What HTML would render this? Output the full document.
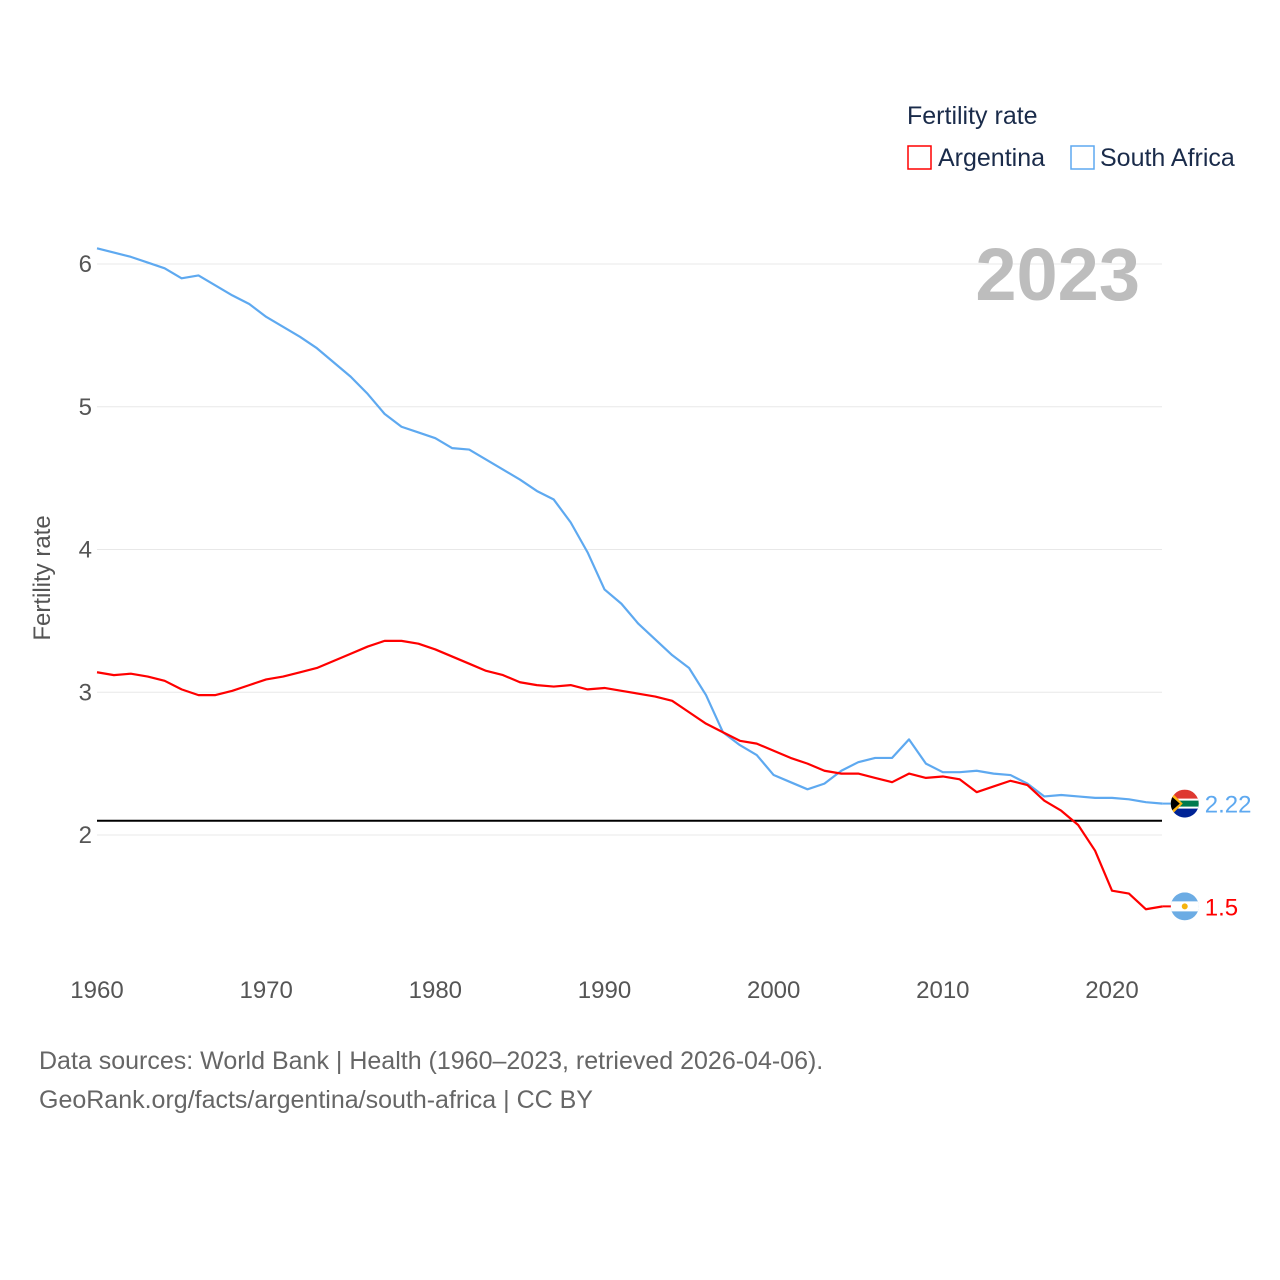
<!DOCTYPE html>
<html><head><meta charset="utf-8"><style>
body{margin:0;background:#fff;font-family:"Liberation Sans",sans-serif}
svg{display:block}
</style></head><body>
<svg id="chart" width="1280" height="1280" xmlns="http://www.w3.org/2000/svg">
<g id="grid"></g>
<g id="yticks"></g>
<g id="xticks"></g>
<text transform="translate(50,578) rotate(-90)" text-anchor="middle" font-size="24" fill="#555">Fertility rate</text>
<text x="1140" y="300" text-anchor="end" font-size="74" font-weight="bold" fill="#bdbdbd">2023</text>
<text x="907" y="124" font-size="25" fill="#1a2b4a">Fertility rate</text>
<g><rect x="908" y="146" width="23" height="23" fill="none" stroke="#f00" stroke-width="1.5"/><text x="938" y="166" font-size="25" fill="#1a2b4a">Argentina</text></g>
<g><rect x="1071" y="146" width="23" height="23" fill="none" stroke="#5ea9f0" stroke-width="1.5"/><text x="1100" y="166" font-size="25" fill="#1a2b4a">South Africa</text></g>
<g id="series"></g>
<text x="39" y="1069" font-size="25" fill="#666">Data sources: World Bank | Health (1960–2023, retrieved 2026-04-06).</text>
<text x="39" y="1108" font-size="25" fill="#666">GeoRank.org/facts/argentina/south-africa | CC BY</text>
</svg>
<script>
const years=[];for(let y=1960;y<=2023;y++)years.push(y);
const southAfrica=[6.11,6.08,6.05,6.01,5.97,5.90,5.92,5.85,5.78,5.72,5.63,5.56,5.49,5.41,5.31,5.21,5.09,4.95,4.86,4.82,4.78,4.71,4.70,4.63,4.56,4.49,4.41,4.35,4.19,3.98,3.72,3.62,3.48,3.37,3.26,3.17,2.98,2.72,2.63,2.56,2.42,2.37,2.32,2.36,2.45,2.51,2.54,2.54,2.67,2.50,2.44,2.44,2.45,2.43,2.42,2.36,2.27,2.28,2.27,2.26,2.26,2.25,2.23,2.22];
const argentina=[3.14,3.12,3.13,3.11,3.08,3.02,2.98,2.98,3.01,3.05,3.09,3.11,3.14,3.17,3.22,3.27,3.32,3.36,3.36,3.34,3.30,3.25,3.20,3.15,3.12,3.07,3.05,3.04,3.05,3.02,3.03,3.01,2.99,2.97,2.94,2.86,2.78,2.72,2.66,2.64,2.59,2.54,2.50,2.45,2.43,2.43,2.40,2.37,2.43,2.40,2.41,2.39,2.30,2.34,2.38,2.35,2.24,2.17,2.07,1.89,1.61,1.59,1.48,1.50];
const yTicks=[2,3,4,5,6];
const xTicks=[1960,1970,1980,1990,2000,2010,2020];
const replacementRate=2.1;
const NS="http://www.w3.org/2000/svg";
const X=y=>97+(y-1960)*(1112-97)/60;
const Y=v=>835-(v-2)*(835-264)/4;
function mk(tag,attrs,parent){const e=document.createElementNS(NS,tag);for(const k in attrs)e.setAttribute(k,attrs[k]);parent.appendChild(e);return e;}
const grid=document.getElementById('grid'),yt=document.getElementById('yticks'),xt=document.getElementById('xticks'),ser=document.getElementById('series');
yTicks.forEach(v=>{
 const l=mk('line',{x1:97,x2:1162,y1:Y(v),y2:Y(v),stroke:'#e8e8e8','stroke-width':1},grid);
 
 
 const t=mk('text',{x:92,y:Y(v)+8,'text-anchor':'end','font-size':24,fill:'#555'},yt);t.textContent=v;
 
 
});
xTicks.forEach(v=>{
 const t=mk('text',{x:X(v),y:998,'text-anchor':'middle','font-size':24,fill:'#555'},xt);t.textContent=v;
 
 
});
const rl=mk('line',{x1:97,x2:1162,y1:Y(replacementRate),y2:Y(replacementRate),stroke:'#000','stroke-width':2},ser);


function line(vals,color,name){
 const p=mk('polyline',{points:vals.map((v,i)=>X(years[i])+','+Y(v)).join(' '),fill:'none',stroke:color,'stroke-width':2.2,'stroke-linejoin':'round'},ser);
 
 
}
line(southAfrica,'#5ea9f0','south-africa-line');
line(argentina,'#f00','argentina-line');
const lastX=X(2023);
// end labels and flags
function flag(cy,type){
 const g=mk('g',{},ser);
 
 
 const cx=lastX+22;
 const id='c'+type;
 const cp=mk('clipPath',{id:id},g);mk('circle',{cx:cx,cy:cy,r:14},cp);
 const h=mk('g',{'clip-path':'url(#'+id+')'},g);
 if(type==='argentina'){
  mk('rect',{x:cx-14,y:cy-14,width:28,height:28,fill:'#6cace4'},h);
  mk('rect',{x:cx-14,y:cy-5,width:28,height:10,fill:'#fff'},h);
  mk('circle',{cx:cx,cy:cy,r:3,fill:'#f6b40e'},h);
 }else{
  mk('rect',{x:cx-14,y:cy-14,width:28,height:14,fill:'#de3831'},h);
  mk('rect',{x:cx-14,y:cy,width:28,height:14,fill:'#002395'},h);
  mk('rect',{x:cx-14,y:cy-5,width:28,height:10,fill:'#fff'},h);
  mk('rect',{x:cx-14,y:cy-3,width:28,height:6,fill:'#007a4d'},h);
  mk('polygon',{points:(cx-14)+','+(cy-12)+' '+(cx-2)+','+cy+' '+(cx-14)+','+(cy+12),fill:'#ffb612'},h);
  mk('polygon',{points:(cx-14)+','+(cy-8)+' '+(cx-5)+','+cy+' '+(cx-14)+','+(cy+8),fill:'#000'},h);
 }
}
const sa=southAfrica[southAfrica.length-1],ar=argentina[argentina.length-1];
mk('line',{x1:lastX,x2:lastX+10,y1:Y(sa),y2:Y(sa),stroke:'#5ea9f0','stroke-width':2},ser);
mk('line',{x1:lastX,x2:lastX+10,y1:Y(ar),y2:Y(ar),stroke:'#f00','stroke-width':2},ser);
flag(Y(sa),'south-africa');flag(Y(ar),'argentina');
const t1=mk('text',{x:lastX+42,y:Y(sa)+9,'font-size':24,fill:'#5ea9f0'},ser);t1.textContent=sa;


const t2=mk('text',{x:lastX+42,y:Y(ar)+9,'font-size':24,fill:'#f00'},ser);t2.textContent=ar;


</script>
</body></html>
